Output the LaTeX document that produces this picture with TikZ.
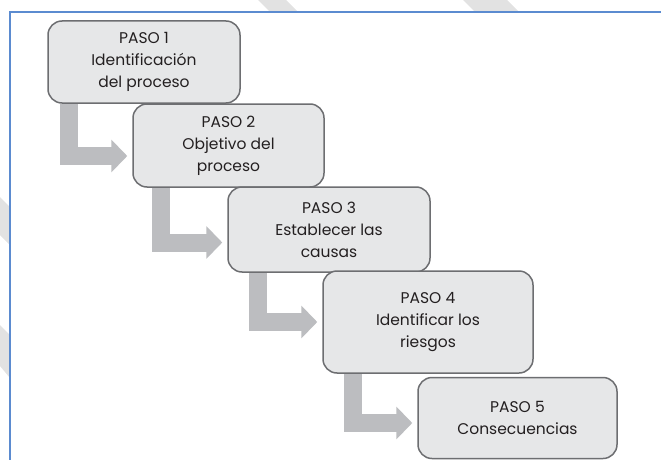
\documentclass[tikz,border=0pt]{standalone}
\usepackage{fontspec}
\setmainfont{Poppins}
\usetikzlibrary{backgrounds}
\usetikzlibrary{calc}
\usetikzlibrary{arrows.meta}
\definecolor{cajafondo}{HTML}{E6E7E8}
\definecolor{cajaborde}{HTML}{6D6E71}
\definecolor{cajatexto}{HTML}{231F20}
\definecolor{flechagris}{HTML}{BCBDC0}
\definecolor{marcoazul}{HTML}{5B8BD0}
\definecolor{rayagris}{HTML}{E2E2E2}
\newcommand{\puntax}{-5}
\newcommand{\marcoxs}{10}
\newcommand{\marcoys}{12}
\newcommand{\marcoxe}{662}
\newcommand{\marcoye}{462}
% L-shaped grey arrow: from box #1 to box #2
\newcommand{\flecha}[4]{
  \draw[flecha] ($(#1.south west)+(#3,0)$)
    |- ($(#2.west)+(\puntax,#4)$);
}
\newcommand{\raya}[4]{
  \fill[rayagris] (#1,#2) -- (#3,#2) -- (#3+#4,#2+#4) -- (#1+#4,#2+#4) -- cycle;
}
\tikzset{
  paso/.style={draw=cajaborde, fill=cajafondo, line width=1.5pt,
    rounded corners=14pt, align=center, inner sep=0pt,
    text=cajatexto, font=\fontsize{15.5}{22}\selectfont},
  flecha/.style={draw=flechagris, line width=18pt,
    -{Triangle[width=32pt,length=16pt]}},
  marco/.style={draw=marcoazul, line width=1.5pt},
}

\begin{document}
\begin{tikzpicture}[x=1pt,y=-1pt]
    \useasboundingbox (0,0) rectangle (661,460);
    % pasos
    \node[paso, minimum width=192pt, minimum height=82pt] (paso1)
      at (144,62) {PASO 1\\Identificación\\del proceso};
    \node[paso, minimum width=191pt, minimum height=83pt] (paso2)
      at (228.5,145.5) {PASO 2\\Objetivo del\\proceso};
    \node[paso, minimum width=202pt, minimum height=85pt] (paso3)
      at (329,229.5) {PASO 3\\Establecer las\\causas};
    \node[paso, minimum width=210pt, minimum height=102pt] (paso4)
      at (428,322) {PASO 4\\Identificar los\\riesgos};
    \node[paso, minimum width=199pt, minimum height=81pt] (paso5)
      at (517.5,418) {PASO 5\\Consecuencias};
    \begin{scope}[on background layer]
      % faint stripes outside the frame
      \raya{463}{0}{507}{40}
      \raya{258}{0}{286}{40}
      \fill[rayagris] (0,325) -- (10,335) -- (10,378) -- (0,366) -- cycle;
      \fill[rayagris] (0,197) -- (10,207) -- (10,245) -- (0,235) -- cycle;
      % frame
      \fill[white] (\marcoxs,\marcoys) rectangle (\marcoxe,\marcoye);
      \draw[marco] (\marcoxs,\marcoye) -- (\marcoxs,\marcoys)
        -- (\marcoxe,\marcoys);
      % arrows
      \flecha{paso1}{paso2}{22}{10.5}
      \flecha{paso2}{paso3}{28.5}{13}
      \flecha{paso3}{paso4}{31}{0}
      \flecha{paso4}{paso5}{31}{5}
    \end{scope}
\end{tikzpicture}
\end{document}
